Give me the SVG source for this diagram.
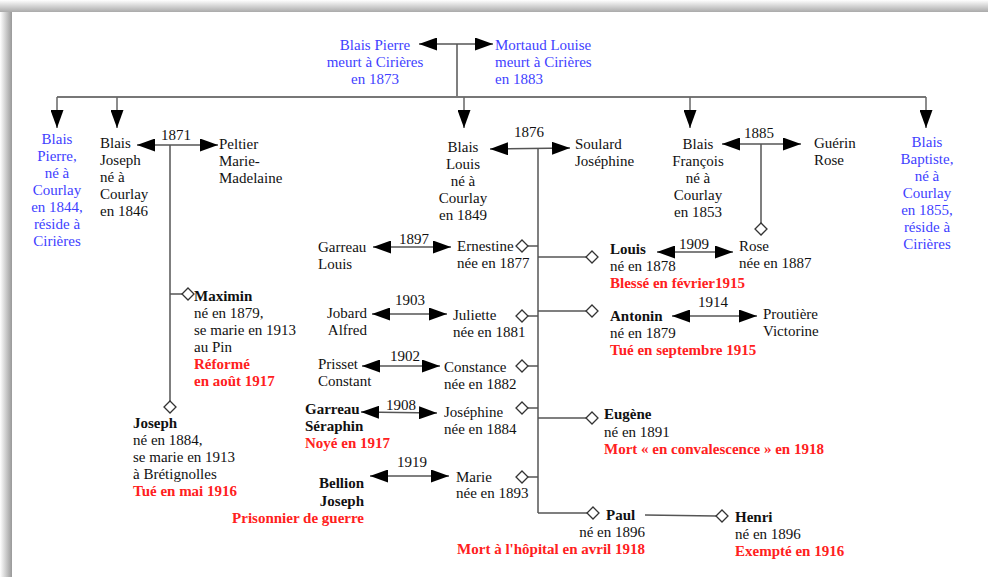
<svg xmlns="http://www.w3.org/2000/svg" width="988" height="577" viewBox="0 0 988 577" font-family="'Liberation Serif', 'Times New Roman', Times, 'DejaVu Serif', serif">
<defs>
<linearGradient id="shL" x1="0" y1="0" x2="1" y2="0"><stop offset="0" stop-color="#fff"/><stop offset="1" stop-color="#999"/></linearGradient>
<linearGradient id="shT" x1="0" y1="0" x2="0" y2="1"><stop offset="0" stop-color="#fff"/><stop offset="1" stop-color="#aaa"/></linearGradient>
<marker id="ah" markerUnits="userSpaceOnUse" markerWidth="18" markerHeight="13" refX="18" refY="6.5" orient="auto-start-reverse" viewBox="0 0 18 13"><path d="M0,0 L18,6.5 L0,13 z" fill="#000"/></marker>
</defs>
<style>
text{font-family:'Liberation Serif','Times New Roman',Times,'DejaVu Serif',serif;font-size:15px;fill:#111}
.b{font-weight:bold}
.r{fill:#ff2020;font-weight:bold}
.blue{fill:#3f3fff}
.m{text-anchor:middle}
.e{text-anchor:end}
.ln{stroke:#555;stroke-width:1.5;fill:none}
.cp{stroke:#555;stroke-width:1.5;fill:none;marker-start:url(#ah);marker-end:url(#ah)}
.dn{stroke:#666;stroke-width:1.5;fill:none;marker-end:url(#ah)}
.dm{fill:#fff;stroke:#333;stroke-width:1.3}
</style>
<rect width="988" height="577" fill="#fff"/>
<rect x="0" y="0" width="12" height="577" fill="url(#shL)"/>
<rect x="0" y="0" width="988" height="12" fill="url(#shT)"/>

<g id="connectors">
<line class="cp" x1="419" y1="44" x2="493" y2="44"/>
<line class="ln" x1="457" y1="44" x2="457" y2="97"/>
<line x1="57" y1="97" x2="926" y2="97" stroke="#777" stroke-width="2"/>
<line class="dn" x1="57" y1="97" x2="57" y2="128"/>
<line class="dn" x1="117" y1="97" x2="117" y2="128"/>
<line class="dn" x1="464" y1="97" x2="464" y2="128"/>
<line class="dn" x1="690" y1="97" x2="690" y2="128"/>
<line class="dn" x1="926" y1="97" x2="926" y2="128"/>

<line class="cp" x1="137" y1="145" x2="218" y2="145"/>
<line class="ln" x1="170" y1="145" x2="170" y2="401"/>
<line class="ln" x1="170" y1="294" x2="182" y2="294"/>
<polygon class="dm" points="188,288 194,294 188,300 182,294"/>
<polygon class="dm" points="170,401 176,407 170,413 164,407"/>

<line class="cp" x1="490" y1="149" x2="570" y2="148"/>
<line class="ln" x1="538" y1="148" x2="538" y2="513"/>
<line class="ln" x1="528" y1="246" x2="538" y2="246"/>
<polygon class="dm" points="522,240 528,246 522,252 516,246"/>
<line class="ln" x1="528" y1="316" x2="538" y2="316"/>
<polygon class="dm" points="522,310 528,316 522,322 516,316"/>
<line class="ln" x1="528" y1="366" x2="538" y2="366"/>
<polygon class="dm" points="522,360 528,366 522,372 516,366"/>
<line class="ln" x1="528" y1="408" x2="538" y2="408"/>
<polygon class="dm" points="522,402 528,408 522,414 516,408"/>
<line class="ln" x1="528" y1="477" x2="538" y2="477"/>
<polygon class="dm" points="522,471 528,477 522,483 516,477"/>

<line class="ln" x1="538" y1="257" x2="586" y2="257"/>
<polygon class="dm" points="592,251 598,257 592,263 586,257"/>
<line class="ln" x1="538" y1="311" x2="586" y2="311"/>
<polygon class="dm" points="592,305 598,311 592,317 586,311"/>
<line class="ln" x1="538" y1="418" x2="586" y2="418"/>
<polygon class="dm" points="592,412 598,418 592,424 586,418"/>
<line class="ln" x1="538" y1="513" x2="587" y2="513"/>
<polygon class="dm" points="593,507 599,513 593,519 587,513"/>
<line class="ln" x1="645" y1="515" x2="716" y2="516"/>
<polygon class="dm" points="722,510 728,516 722,522 716,516"/>

<line class="cp" x1="373" y1="247" x2="451" y2="247"/>
<line class="cp" x1="372" y1="314" x2="447" y2="314"/>
<line class="cp" x1="362" y1="366" x2="440" y2="366"/>
<line class="cp" x1="361" y1="412" x2="437" y2="413"/>
<line class="cp" x1="370" y1="476" x2="449" y2="476"/>
<line class="cp" x1="657" y1="252" x2="733" y2="252"/>
<line class="cp" x1="672" y1="316" x2="757" y2="316"/>

<line class="cp" x1="722" y1="144" x2="801" y2="144"/>
<line class="ln" x1="761" y1="144" x2="761" y2="223"/>
<polygon class="dm" points="761,223 767,229 761,235 755,229"/>
</g>

<g id="labels">
<text class="m" x="176" y="140">1871</text>
<text class="m" x="529" y="137">1876</text>
<text class="m" x="759" y="138">1885</text>
<text class="m" x="414" y="244">1897</text>
<text class="m" x="410" y="305">1903</text>
<text class="m" x="405" y="361">1902</text>
<text class="m" x="401" y="410">1908</text>
<text class="m" x="412" y="467">1919</text>
<text class="m" x="694" y="249">1909</text>
<text class="m" x="713" y="307">1914</text>
</g>

<g id="blais-pierre-pere"><text class="blue m" x="375" y="50">Blais Pierre</text><text class="blue m" x="375" y="67">meurt à Cirières</text><text class="blue m" x="375" y="84">en 1873</text></g>
<g id="mortaud-louise"><text class="blue" x="495" y="50">Mortaud Louise</text><text class="blue" x="495" y="67">meurt à Cirières</text><text class="blue" x="495" y="84">en 1883</text></g>

<g id="blais-pierre"><text class="blue m" x="57" y="144">Blais</text><text class="blue m" x="57" y="161">Pierre,</text><text class="blue m" x="57" y="178">né à</text><text class="blue m" x="57" y="195">Courlay</text><text class="blue m" x="57" y="212">en 1844,</text><text class="blue m" x="57" y="229">réside à</text><text class="blue m" x="57" y="246">Cirières</text></g>

<g id="blais-joseph"><text x="100" y="148">Blais</text><text x="100" y="165">Joseph</text><text x="100" y="182">né à</text><text x="100" y="199">Courlay</text><text x="100" y="216">en 1846</text></g>
<g id="peltier"><text x="219" y="149">Peltier</text><text x="219" y="166">Marie-</text><text x="219" y="183">Madelaine</text></g>
<g id="maximin"><text class="b" x="194" y="301">Maximin</text><text x="194" y="318">né en 1879,</text><text x="194" y="335">se marie en 1913</text><text x="194" y="352">au Pin</text><text class="r" x="194" y="369">Réformé</text><text class="r" x="194" y="386">en août 1917</text></g>
<g id="joseph"><text class="b" x="133" y="428">Joseph</text><text x="133" y="445">né en 1884,</text><text x="133" y="462">se marie en 1913</text><text x="133" y="479">à Brétignolles</text><text class="r" x="133" y="496">Tué en mai 1916</text></g>

<g id="blais-louis"><text class="m" x="463" y="152">Blais</text><text class="m" x="463" y="169">Louis</text><text class="m" x="463" y="186">né à</text><text class="m" x="463" y="203">Courlay</text><text class="m" x="463" y="220">en 1849</text></g>
<g id="soulard"><text x="575" y="149">Soulard</text><text x="575" y="166">Joséphine</text></g>

<g id="ernestine"><text x="457" y="251">Ernestine</text><text x="457" y="268">née en 1877</text></g>
<g id="garreau-louis"><text x="318" y="252">Garreau</text><text x="318" y="269">Louis</text></g>
<g id="juliette"><text x="453" y="320">Juliette</text><text x="453" y="337">née en 1881</text></g>
<g id="jobard"><text class="e" x="367" y="318">Jobard</text><text class="e" x="367" y="335">Alfred</text></g>
<g id="constance"><text x="444" y="372">Constance</text><text x="444" y="389">née en 1882</text></g>
<g id="prisset"><text x="318" y="369">Prisset</text><text x="318" y="386">Constant</text></g>
<g id="josephine"><text x="444" y="417">Joséphine</text><text x="444" y="434">née en 1884</text></g>
<g id="garreau-seraphin"><text class="b" x="305" y="414">Garreau</text><text class="b" x="305" y="431">Séraphin</text><text class="r" x="305" y="448">Noyé en 1917</text></g>
<g id="marie"><text x="456" y="482">Marie</text><text x="456" y="498">née en 1893</text></g>
<g id="bellion"><text class="b e" x="364" y="488">Bellion</text><text class="b e" x="364" y="506">Joseph</text><text class="r e" x="364" y="523">Prisonnier de guerre</text></g>

<g id="louis"><text class="b" x="610" y="254">Louis</text><text x="610" y="271">né en 1878</text><text class="r" x="610" y="288">Blessé en février1915</text></g>
<g id="rose"><text x="739" y="251">Rose</text><text x="739" y="268">née en 1887</text></g>
<g id="antonin"><text class="b" x="610" y="321">Antonin</text><text x="610" y="338">né en 1879</text><text class="r" x="610" y="355">Tué en septembre 1915</text></g>
<g id="proutiere"><text x="763" y="319">Proutière</text><text x="763" y="336">Victorine</text></g>
<g id="eugene"><text class="b" x="604" y="419">Eugène</text><text x="604" y="437">né en 1891</text><text class="r" x="604" y="454">Mort « en convalescence » en 1918</text></g>
<g id="paul"><text class="b" x="606" y="520">Paul</text><text class="e" x="645" y="537">né en 1896</text><text class="r e" x="645" y="554">Mort à l'hôpital en avril 1918</text></g>
<g id="henri"><text class="b" x="735" y="522">Henri</text><text x="735" y="539">né en 1896</text><text class="r" x="735" y="556">Exempté en 1916</text></g>

<g id="blais-francois"><text class="m" x="698" y="149">Blais</text><text class="m" x="698" y="166">François</text><text class="m" x="698" y="183">né à</text><text class="m" x="698" y="200">Courlay</text><text class="m" x="698" y="217">en 1853</text></g>
<g id="guerin"><text x="814" y="148">Guérin</text><text x="814" y="165">Rose</text></g>
<g id="blais-baptiste"><text class="blue m" x="927" y="147">Blais</text><text class="blue m" x="927" y="164">Baptiste,</text><text class="blue m" x="927" y="181">né à</text><text class="blue m" x="927" y="198">Courlay</text><text class="blue m" x="927" y="215">en 1855,</text><text class="blue m" x="927" y="232">réside à</text><text class="blue m" x="927" y="249">Cirières</text></g>
</svg>
